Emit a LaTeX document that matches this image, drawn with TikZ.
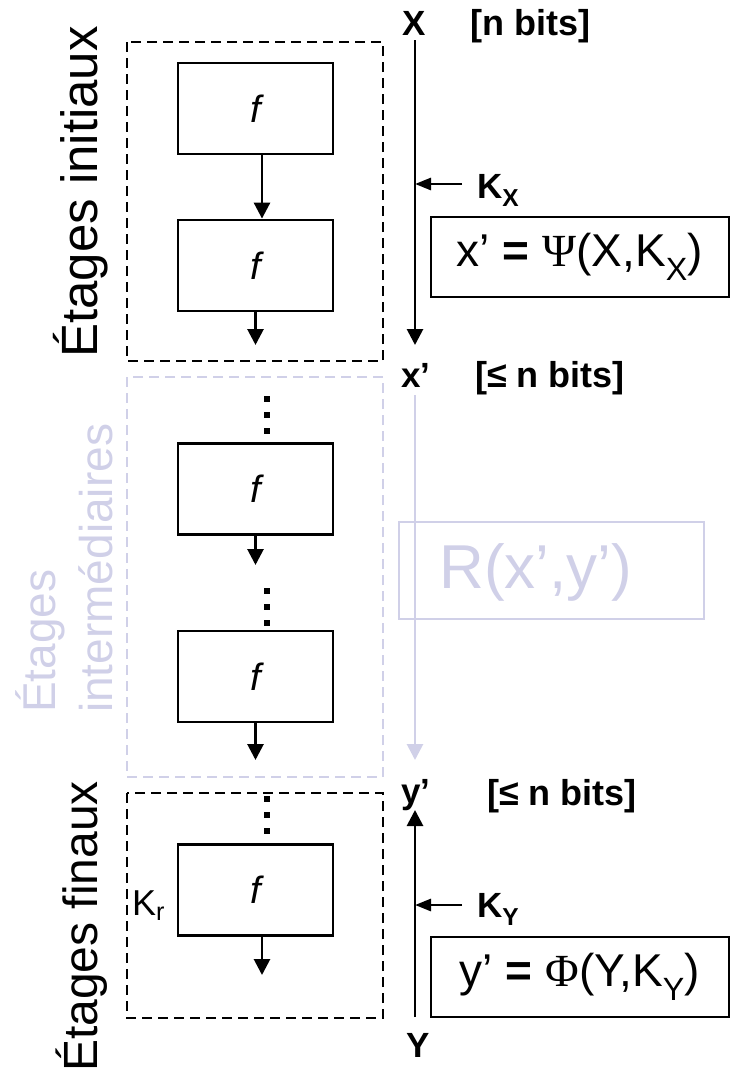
\documentclass[tikz,border=0pt]{standalone}
\usepackage{fontspec}
\setmainfont{Liberation Sans}
\newfontfamily\grk{Liberation Serif}
\usetikzlibrary{arrows.meta}
\definecolor{lav}{RGB}{208,208,232}
\begin{document}
\begin{tikzpicture}[x=1pt,y=-1pt,
  fbox/.style={draw, line width=2.8pt, minimum width=155pt, minimum height=91pt,
    inner sep=0pt, font=\fontsize{38}{38}\selectfont\itshape},
  stagebox/.style={line width=2.8pt, dash pattern=on 10pt off 6pt},
  flow/.style={line width=2.8pt, -{Triangle[length=16pt,width=16pt]}},
  keyin/.style={line width=2.8pt, -{Triangle[length=16pt,width=12pt]}},
  dotcol/.style={line width=6pt, dash pattern=on 6pt off 10pt},
  sig/.style={font=\fontsize{35}{35}\selectfont\bfseries, inner sep=0pt, anchor=base},
  bits/.style={font=\fontsize{36}{36}\selectfont\bfseries, inner sep=0pt, anchor=base west},
  keylbl/.style={font=\fontsize{35}{35}\selectfont\bfseries, inner sep=0pt, anchor=base west},
  eqbox/.style={draw, line width=2.8pt, minimum width=298pt, minimum height=80pt,
    inner sep=0pt, font=\fontsize{46}{46}\selectfont},
  stagelbl/.style={rotate=90, anchor=base west, inner sep=0pt}
]
\useasboundingbox (0,0) rectangle (731,1076);

% stage frames
\draw[stagebox] (127,42) rectangle (383,361);
\draw[stagebox, lav] (127,377) rectangle (383,777);
\draw[stagebox] (127,793) rectangle (383,1018);

% stage titles
\node[stagelbl, font=\fontsize{51}{51}\selectfont] (tinit) at (97,358) {Étages initiaux};
\node[stagelbl, text=lav, font=\fontsize{46}{46}\selectfont] (tmid1) at (55,713) {Étages};
\node[stagelbl, text=lav, font=\fontsize{46}{46}\selectfont] (tmid2) at (112,713) {intermédiaires};
\node[stagelbl, font=\fontsize{48}{48}\selectfont] (tfin) at (97,1072) {Étages finaux};

% round functions
\node[fbox] (f1) at (255.5,108.5) {f};
\node[fbox] (f2) at (255.5,265.5) {f};
\node[fbox] (f3) at (255.5,489) {f};
\node[fbox] (f4) at (255.5,676.5) {f};
\node[fbox] (f5) at (255.5,890) {f};

\coordinate (o2) at (255.5,345);
\coordinate (o3) at (255.5,565);
\coordinate (o4) at (255.5,760);
\coordinate (o5) at (262,975);

\draw[flow] ([xshift=6.5pt]f1.south) -- ([xshift=6.5pt]f2.north);
\draw[flow] (f2.south) -- (o2);
\draw[flow] (f3.south) -- (o3);
\draw[flow] (f4.south) -- (o4);
\draw[flow] ([xshift=6.5pt]f5.south) -- (o5);

% elided stages
\draw[dotcol] (267,396) -- (267,434);
\draw[dotcol] (267,588) -- (267,626);
\draw[dotcol] (267,796) -- (267,834);

\node[inner sep=0pt, anchor=base west, font=\fontsize{36}{36}\selectfont] (kr) at (132,915) {K\textsubscript{r}};

% signal column
\node[sig] (X) at (414,35) {X};
\node[bits] (nb) at (470,35) {[n bits]};
\node[sig] (xp) at (416,387) {x’};
\node[bits] (nb2) at (475,387) {[≤ n bits]};
\node[sig] (yp) at (416,803) {y’};
\node[bits] (nb3) at (487,805) {[≤ n bits]};
\node[sig] (Y) at (418,1057) {Y};

\coordinate (xtop) at (415,40);
\coordinate (xend) at (415,345);
\coordinate (kxhit) at (415,184);
\coordinate (kxstart) at (462,184);
\draw[flow] (xtop) -- (xend);
\node[keylbl] (kx) at (477,198) {K\textsubscript{X}};
\draw[keyin] (kxstart) -- (kxhit);
\node[eqbox] (psi) at (580,257) {x’ \textbf{=} {\grk Ψ}(X,K\textsubscript{X})};

\coordinate (mtop) at (415,395);
\coordinate (mend) at (415,760);
\draw[flow, lav] (mtop) -- (mend);
\node[draw=lav, line width=2.8pt, minimum width=305pt, minimum height=97pt] (rbox) at (551.5,570.5) {};
\node[text=lav, inner sep=0pt, font=\fontsize{62}{62}\selectfont] (rtxt) at (536,572) {R(x’,y’)};

\coordinate (ybot) at (415,1017);
\coordinate (yend) at (415,810);
\coordinate (kyhit) at (415,905);
\coordinate (kystart) at (462,905);
\draw[flow] (ybot) -- (yend);
\node[keylbl] (ky) at (477,917) {K\textsubscript{Y}};
\draw[keyin] (kystart) -- (kyhit);
\node[eqbox] (phi) at (580,977) {y’ \textbf{=} {\grk Φ}(Y,K\textsubscript{Y})};
\end{tikzpicture}
\end{document}
